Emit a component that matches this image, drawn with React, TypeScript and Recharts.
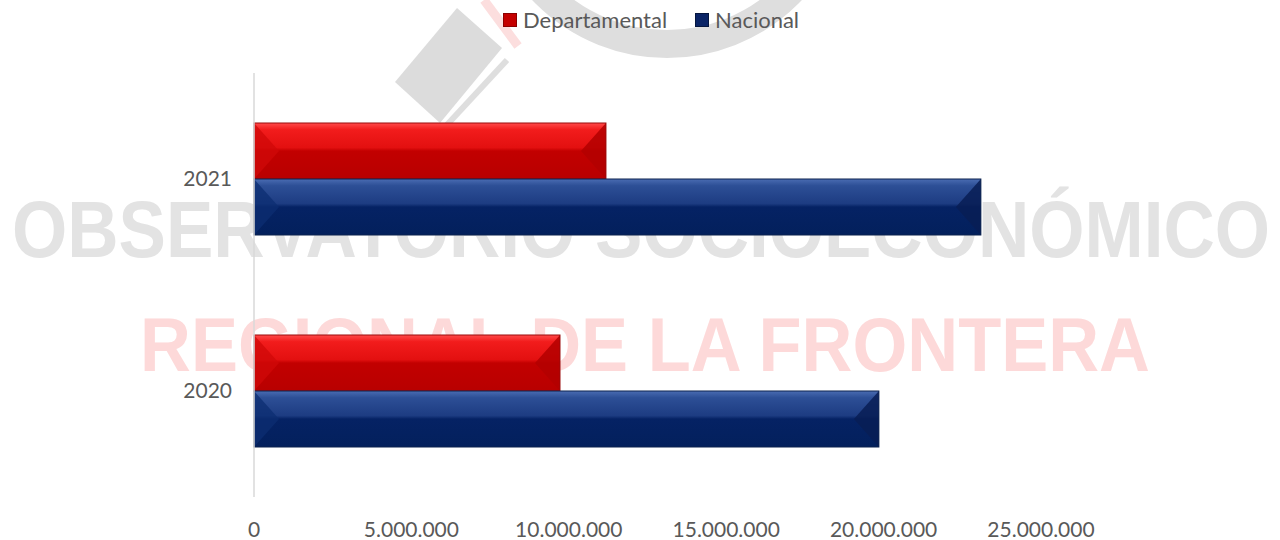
import { BarChart, Bar, XAxis, YAxis } from 'recharts';

const years = ['2021', '2020'];
const departamental = [11180000, 9720000];
const nacional = [23090000, 19850000];
const xTicks = [0, 5000000, 10000000, 15000000, 20000000, 25000000];

const data = years.map((year, i) => ({
  year,
  Departamental: departamental[i],
  Nacional: nacional[i],
}));

const FONT = 'Lato, "Open Sans", sans-serif';
const TEXT = '#595959';

const palettes: Record<string, any> = {
  red: {
    stops: ['#ff4a4a', '#f21c1c', '#e31010', '#c20000', '#b80000'],
    edge: '#9a0a0a',
    left: '#d00808',
    right: '#b30000',
  },
  blue: {
    stops: ['#4a6cb2', '#2d4f96', '#1d3c82', '#052264', '#03205c'],
    edge: '#0d234f',
    left: '#0c2d72',
    right: '#081d55',
  },
};

const fmt = (v: number) => String(v).replace(/\B(?=(\d{3})+(?!\d))/g, '.');

function BevelBar(props: any) {
  const { x, y, width, height, kind, index } = props;
  if (!width || width <= 0) return null;
  const p = palettes[kind];
  const id = `grad-${kind}-${index}`;
  const b = Math.min(25, width / 2);
  const m = y + height / 2;
  const r = x + width;
  return (
    <g>
      <defs>
        <linearGradient id={id} x1="0" y1="0" x2="0" y2="1">
          <stop offset="0" stopColor={p.stops[0]} />
          <stop offset="0.12" stopColor={p.stops[1]} />
          <stop offset="0.44" stopColor={p.stops[2]} />
          <stop offset="0.5" stopColor={p.stops[3]} />
          <stop offset="1" stopColor={p.stops[4]} />
        </linearGradient>
      </defs>
      <rect x={x} y={y} width={width} height={height} fill={`url(#${id})`} />
      <polygon points={`${x},${y} ${x + b},${m} ${x},${y + height}`} fill={p.left} opacity={0.75} />
      <polygon points={`${r},${y} ${r - b},${m} ${r},${y + height}`} fill={p.right} opacity={0.85} />
      <rect x={x} y={y} width={width} height={height} fill="none" stroke={p.edge} strokeWidth={1} />
    </g>
  );
}

function Watermark() {
  return (
    <svg width={1280} height={540} style={{ position: 'absolute', left: 0, top: 0 }}>
      <circle cx={667} cy={-128} r={172} fill="none" stroke="#dedede" strokeWidth={28} />
      <line x1={484} y1={0} x2={518} y2={46} stroke="#fcdede" strokeWidth={9} />
      <polygon points="457,8 502,48 440,123 395,82" fill="#dcdcdc" />
      <line x1={507} y1={60} x2={445} y2={127} stroke="#dedede" strokeWidth={6} />
      <text
        x={12}
        y={257}
        fontSize={80}
        fontWeight={700}
        fontFamily='"Liberation Sans", sans-serif'
        fill="#e3e3e3"
        textLength={1258}
        lengthAdjust="spacingAndGlyphs"
      >
        OBSERVATORIO SOCIOECONÓMICO
      </text>
      <text
        x={140}
        y={371}
        fontSize={76}
        fontWeight={700}
        fontFamily='"Liberation Sans", sans-serif'
        fill="#fdd9d9"
        textLength={1010}
        lengthAdjust="spacingAndGlyphs"
      >
        REGIONAL DE LA FRONTERA
      </text>
    </svg>
  );
}

function LegendBox() {
  const items = [
    { name: 'Departamental', color: '#c40000', edge: '#8b0000', left: 503 },
    { name: 'Nacional', color: '#0a2466', edge: '#05163f', left: 695 },
  ];
  return (
    <div style={{ position: 'absolute', left: 0, top: 0, width: 1280, height: 40 }}>
      {items.map((it) => (
        <div
          key={it.name}
          style={{
            position: 'absolute',
            left: it.left,
            top: 8,
            display: 'flex',
            alignItems: 'center',
            fontFamily: FONT,
            fontSize: 22,
            color: TEXT,
            lineHeight: '24px',
          }}
        >
          <span
            style={{
              display: 'inline-block',
              width: 12,
              height: 12,
              background: it.color,
              border: `1px solid ${it.edge}`,
              marginRight: 6,
            }}
          />
          {it.name}
        </div>
      ))}
    </div>
  );
}

export default function App() {
  return (
    <div style={{ position: 'absolute', left: 0, top: 0, width: 1280, height: 540, background: '#fff' }}>
      <Watermark />
      <div style={{ position: 'absolute', left: 0, top: 0 }}>
        <BarChart
          width={1280}
          height={540}
          data={data}
          layout="vertical"
          margin={{ top: 73, right: 239, bottom: 0, left: 0 }}
          barGap={0}
        >
          <XAxis
            type="number"
            domain={[0, 25000000]}
            ticks={xTicks}
            tickFormatter={fmt}
            axisLine={false}
            tickLine={false}
            height={43}
            tickMargin={19}
            tick={{ fill: TEXT, fontSize: 21, fontFamily: FONT }}
            interval={0}
          />
          <YAxis
            type="category"
            dataKey="year"
            width={254}
            axisLine={{ stroke: '#d9d9d9', strokeWidth: 1.5 }}
            tickLine={false}
            tickMargin={16}
            tick={{ fill: TEXT, fontSize: 21, fontFamily: FONT }}
          />
          <Bar
            dataKey="Departamental"
            barSize={56}
            isAnimationActive={false}
            shape={(p: any) => <BevelBar {...p} kind="red" />}
          />
          <Bar
            dataKey="Nacional"
            barSize={56}
            isAnimationActive={false}
            shape={(p: any) => <BevelBar {...p} kind="blue" />}
          />
        </BarChart>
      </div>
      <LegendBox />
    </div>
  );
}
